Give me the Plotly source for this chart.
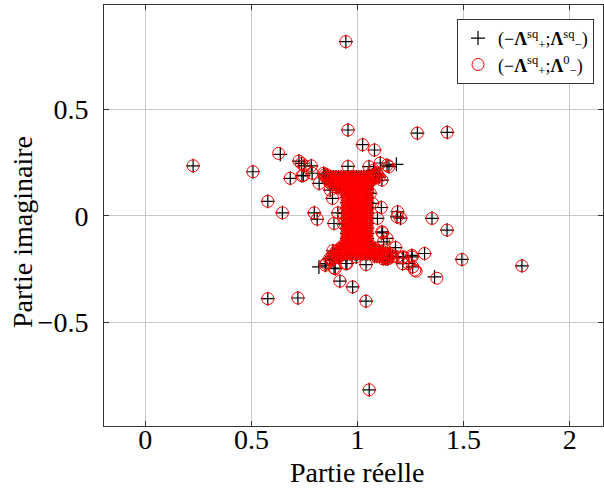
import plotly.graph_objects as go

# ---- data: shared eigenvalues (real, imaginary) ----
common_re = [
    0.945, 0.225, 0.507, 0.577, 0.646, 0.683, 0.724, 0.736, 0.749, 0.738, 0.745, 0.782, 0.786, 0.819, 0.84,
    0.955, 1.024, 1.080, 1.282, 1.423, 0.955, 1.054, 1.107, 1.139, 1.148, 1.115, 1.091, 1.076, 1.112, 1.189,
    1.203, 1.351, 1.422, 0.796, 0.81, 0.889, 0.907, 0.934, 1.094, 1.071, 1.06, 0.871, 0.882, 1.118, 1.123,
    1.179, 1.316, 1.492, 1.775, 1.256, 1.257, 1.213, 1.213, 1.26, 1.241, 1.217, 1.186, 1.165, 1.139, 1.154,
    0.884, 0.852, 0.848, 0.879, 0.889, 0.895, 0.91, 0.945, 0.95, 1.04, 0.917, 0.977, 1.04, 0.577, 0.719,
    1.055, 0.994, 0.95, 0.934, 1.115, 1.139, 1.107, 1.186,
]
common_im = [
    0.818, 0.235, 0.207, 0.068, 0.014, 0.176, 0.257, 0.246, 0.235, 0.188, 0.19, 0.235, 0.2, 0.152, 0.2,
    0.403, 0.334, 0.309, 0.388, 0.392, 0.232, 0.231, 0.248, 0.238, 0.231, 0.168, 0.2, 0.215, 0.039, 0.019,
    -0.011, -0.012, -0.067, 0.014, -0.016, -0.036, 0.014, 0.011, -0.012, 0.058, 0.105, 0.121, 0.082, -0.08, -0.122,
    -0.149, -0.177, -0.205, -0.235, -0.186, -0.193, -0.197, -0.225, -0.24, -0.224, -0.193, -0.193, -0.19, -0.2, -0.177,
    -0.164, -0.224, -0.232, -0.208, -0.245, -0.248, -0.193, -0.224, -0.224, -0.229, -0.307, -0.334, -0.401, -0.389, -0.386,
    -0.817, -0.193, -0.106, -0.039, -0.075, -0.106, -0.177, -0.005,
]

# dense I-shaped cluster around 1, read row by row: (imaginary part, [real parts])
stem_even = [0.950, 0.962, 0.974, 0.986, 0.998, 1.010, 1.022, 1.034, 1.046]
stem_odd = [0.956, 0.968, 0.980, 0.992, 1.004, 1.016, 1.028, 1.040]
cluster_rows = [
    (0.192, [0.845, 0.857, 1.070, 1.082, 1.094]),
    (0.182, [0.850, 0.862, 0.874, 0.886, 0.898, 0.910, 0.922, 0.934, 0.946, 0.958, 0.970, 0.982, 0.994,
             1.006, 1.018, 1.030, 1.042, 1.054, 1.066, 1.078, 1.090, 1.102]),
    (0.172, [0.858, 0.870, 0.882, 0.894, 0.906, 0.918, 0.930, 0.942, 0.954, 0.966, 0.978, 0.990, 1.002,
             1.014, 1.026, 1.038, 1.050, 1.062, 1.074]),
    (0.160, [0.866, 0.878, 0.890, 0.902, 0.914, 0.926, 0.938, 0.950, 0.962, 0.974, 0.986, 0.998, 1.010,
             1.022, 1.034, 1.046, 1.058]),
    (0.148, [0.878, 0.890, 0.902, 0.914, 0.926, 0.938, 0.950, 0.962, 0.974, 0.986, 0.998, 1.010, 1.022,
             1.034, 1.046]),
    (0.136, [0.900, 0.912, 0.924, 0.936, 0.948, 0.960, 0.972, 0.984, 0.996, 1.008, 1.020, 1.032, 1.044]),
    (0.124, [0.925, 0.937, 0.949, 0.961, 0.973, 0.985, 0.997, 1.009, 1.021, 1.033, 1.045]),
    (0.110, stem_even), (0.098, stem_odd), (0.086, stem_even), (0.074, stem_odd),
    (0.062, stem_even), (0.050, stem_odd), (0.038, stem_even), (0.026, stem_odd),
    (0.014, stem_even), (0.002, stem_odd), (-0.010, stem_even), (-0.022, stem_odd),
    (-0.034, stem_even), (-0.046, stem_odd), (-0.058, stem_even), (-0.070, stem_odd),
    (-0.082, stem_even), (-0.094, stem_odd), (-0.106, stem_even), (-0.118, stem_odd),
    (-0.130, [0.944, 0.956, 0.968, 0.980, 0.992, 1.004, 1.016, 1.028, 1.040, 1.052]),
    (-0.142, [0.930, 0.942, 0.954, 0.966, 0.978, 0.990, 1.002, 1.014, 1.026, 1.038, 1.050, 1.062]),
    (-0.154, [0.915, 0.927, 0.939, 0.951, 0.963, 0.975, 0.987, 0.999, 1.011, 1.023, 1.035, 1.047, 1.059,
              1.071, 1.083]),
    (-0.166, [0.900, 0.912, 0.924, 0.936, 0.948, 0.960, 0.972, 0.984, 0.996, 1.008, 1.020, 1.032, 1.044,
              1.056, 1.068, 1.080, 1.092, 1.104, 1.116]),
    (-0.178, [0.892, 0.904, 0.916, 0.928, 0.940, 0.952, 0.964, 0.976, 0.988, 1.000, 1.012, 1.024, 1.036,
              1.048, 1.060, 1.072, 1.084, 1.096, 1.108, 1.120, 1.132, 1.144]),
    (-0.190, [0.880, 0.892, 0.904, 0.916, 1.080, 1.092, 1.104, 1.116, 1.128, 1.140, 1.152]),
    (-0.202, [0.868, 0.880, 1.120, 1.132, 1.144]),
]

# series-specific points
only_sq_re = [0.636, 1.363, 1.183, 0.818]
only_sq_im = [0.289, -0.287, 0.242, -0.24]
only_0_re = [0.628, 1.374, 1.27, 1.276]
only_0_im = [0.293, -0.293, -0.255, -0.26]

x_ticks = [0, 0.5, 1, 1.5, 2]
x_ticktext = ["0", "0.5", "1", "1.5", "2"]
y_ticks = [-0.5, 0, 0.5]
y_ticktext = ["−0.5", "0", "0.5"]

# build series
cluster_re, cluster_im = [], []
for im_val, re_list in cluster_rows:
    for re_val in re_list:
        cluster_re.append(re_val)
        cluster_im.append(im_val)

re_sq = common_re + cluster_re + only_sq_re
im_sq = common_im + cluster_im + only_sq_im
re_0 = common_re + cluster_re + only_0_re
im_0 = common_im + cluster_im + only_0_im

label_sq = "(−<b>Λ</b><sup>sq</sup><sub>+</sub>;<b>Λ</b><sup>sq</sup><sub>−</sub>)"
label_0 = "(−<b>Λ</b><sup>sq</sup><sub>+</sub>;<b>Λ</b><sup>0</sup><sub>−</sub>)"

FONT = "Liberation Serif, DejaVu Serif, serif"

fig = go.Figure()
fig.add_trace(go.Scatter(
    x=re_sq, y=im_sq, mode="markers", name=label_sq,
    marker=dict(symbol="cross-thin-open", size=10, color="black",
                line=dict(color="black", width=1.2)),
))
fig.add_trace(go.Scatter(
    x=re_0, y=im_0, mode="markers", name=label_0,
    marker=dict(symbol="circle-open", size=12, color="red",
                line=dict(color="red", width=1)),
))

axis_common = dict(
    showgrid=True, gridcolor="#c8c8c8", gridwidth=1,
    zeroline=False, showline=True, linecolor="#333333", linewidth=1,
    mirror="ticks", ticks="inside", ticklen=5, tickcolor="#333333",
    tickfont=dict(family=FONT, size=28, color="black"),
)

fig.update_layout(
    width=604, height=491,
    margin=dict(l=104, r=1, t=5, b=65),
    paper_bgcolor="white", plot_bgcolor="white",
    showlegend=True,
    legend=dict(
        x=0.982, y=0.967, xanchor="right", yanchor="top",
        bgcolor="white", bordercolor="#333333", borderwidth=1,
        font=dict(family=FONT, size=18, color="black"),
        tracegroupgap=2,
    ),
    xaxis=dict(range=[-0.195, 2.157], tickvals=x_ticks, ticktext=x_ticktext,
               ticklabelstandoff=-12, **axis_common),
    yaxis=dict(range=[-0.987, 0.99], tickvals=y_ticks, ticktext=y_ticktext,
               ticklabelstandoff=9, **axis_common),
    annotations=[
        dict(text="Partie réelle", xref="paper", yref="paper", x=0.507, y=-0.111,
             xanchor="center", yanchor="middle", showarrow=False,
             font=dict(family=FONT, size=28, color="black")),
        dict(text="Partie imaginaire", xref="paper", yref="paper", x=-0.162, y=0.461,
             xanchor="center", yanchor="middle", showarrow=False, textangle=-90,
             font=dict(family=FONT, size=28, color="black")),
    ],
)

fig.write_html("out.html")
